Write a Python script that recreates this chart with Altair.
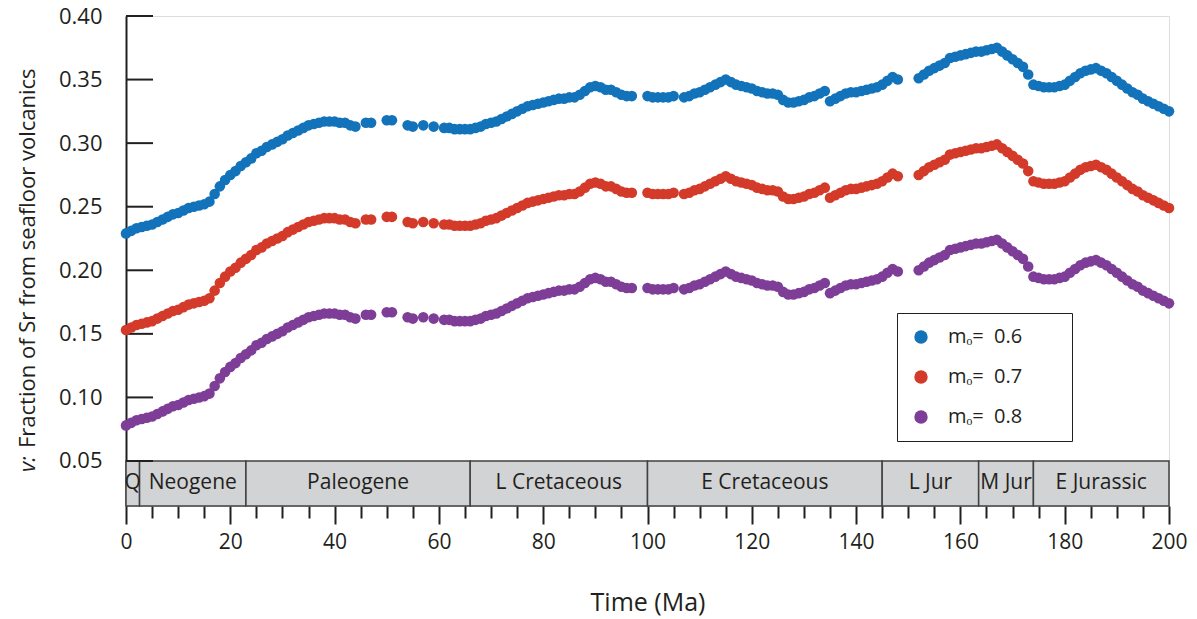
import altair as alt
import pandas as pd

FONT = "Open Sans"
INK = "#231f20"

# ---- data ----
ages = (list(range(0, 45)) + [46, 47, 50, 51, 54, 55, 57, 59] + list(range(61, 98))
        + list(range(100, 106)) + list(range(107, 149)) + list(range(152, 201)))

v_06 = [0.229,0.231,0.233,0.234,0.235,0.236,0.238,0.240,0.242,0.244,
        0.245,0.247,0.249,0.250,0.251,0.252,0.254,0.260,0.266,0.271,
        0.275,0.278,0.282,0.285,0.288,0.292,0.294,0.297,0.299,0.301,
        0.303,0.306,0.308,0.310,0.312,0.314,0.315,0.316,0.317,0.317,
        0.317,0.316,0.316,0.314,0.313,
        0.316,0.316, 0.318,0.318, 0.314,0.313, 0.314, 0.313,
        0.312,0.312,0.311,0.311,0.311,0.311,0.312,0.313,0.315,
        0.316,0.317,0.319,0.321,0.323,0.325,0.327,0.329,0.330,0.331,
        0.332,0.333,0.334,0.335,0.335,0.336,0.336,0.338,0.341,0.344,
        0.345,0.344,0.342,0.342,0.340,0.338,0.337,0.337,
        0.337,0.336,0.336,0.336,0.336,0.337,
        0.336,0.337,0.339,
        0.340,0.342,0.344,0.346,0.348,0.350,0.348,0.346,0.345,0.344,
        0.343,0.341,0.340,0.339,0.339,0.338,0.334,0.332,0.332,0.333,
        0.334,0.336,0.337,0.339,0.341,0.333,0.335,0.337,0.339,0.340,
        0.340,0.341,0.342,0.343,0.344,0.346,0.349,0.352,0.350,
        0.351,0.354,0.357,0.359,0.361,0.363,0.367,0.368,
        0.369,0.370,0.371,0.372,0.372,0.373,0.374,0.375,0.372,0.369,
        0.366,0.363,0.360,0.354,0.346,0.345,0.344,0.344,0.344,0.345,
        0.346,0.349,0.352,0.355,0.357,0.358,0.359,0.357,0.355,0.352,
        0.349,0.346,0.343,0.340,0.338,0.335,0.333,0.331,0.329,0.327,0.325]

v_07 = [0.153,0.155,0.157,0.158,0.159,0.160,0.162,0.164,0.166,0.168,
        0.169,0.171,0.173,0.174,0.175,0.176,0.178,0.184,0.190,0.195,
        0.199,0.202,0.206,0.209,0.212,0.216,0.218,0.221,0.223,0.225,
        0.227,0.230,0.232,0.234,0.236,0.238,0.239,0.240,0.241,0.241,
        0.241,0.240,0.240,0.238,0.237,
        0.240,0.240, 0.242,0.242, 0.238,0.237, 0.238, 0.237,
        0.236,0.236,0.235,0.235,0.235,0.235,0.236,0.237,0.239,
        0.240,0.241,0.243,0.245,0.247,0.249,0.251,0.253,0.254,0.255,
        0.256,0.257,0.258,0.259,0.259,0.260,0.260,0.262,0.265,0.268,
        0.269,0.268,0.266,0.266,0.264,0.262,0.261,0.261,
        0.261,0.260,0.260,0.260,0.260,0.261,
        0.260,0.261,0.263,
        0.264,0.266,0.268,0.270,0.272,0.274,0.272,0.270,0.269,0.268,
        0.267,0.265,0.264,0.263,0.263,0.262,0.258,0.256,0.256,0.257,
        0.258,0.260,0.261,0.263,0.265,0.257,0.259,0.261,0.263,0.264,
        0.264,0.265,0.266,0.267,0.268,0.270,0.273,0.276,0.274,
        0.275,0.278,0.281,0.283,0.285,0.287,0.291,0.292,
        0.293,0.294,0.295,0.296,0.296,0.297,0.298,0.299,0.296,0.293,
        0.290,0.287,0.284,0.278,0.270,0.269,0.268,0.268,0.268,0.269,
        0.270,0.273,0.276,0.279,0.281,0.282,0.283,0.281,0.279,0.276,
        0.273,0.270,0.267,0.264,0.262,0.259,0.257,0.255,0.253,0.251,0.249]

v_08 = [0.078,0.080,0.082,0.083,0.084,0.085,0.087,0.089,0.091,0.093,
        0.094,0.096,0.098,0.099,0.100,0.101,0.103,0.109,0.115,0.120,
        0.124,0.127,0.131,0.134,0.137,0.141,0.143,0.146,0.148,0.150,
        0.152,0.155,0.157,0.159,0.161,0.163,0.164,0.165,0.166,0.166,
        0.166,0.165,0.165,0.163,0.162,
        0.165,0.165, 0.167,0.167, 0.163,0.162, 0.163, 0.162,
        0.161,0.161,0.160,0.160,0.160,0.160,0.161,0.162,0.164,
        0.165,0.166,0.168,0.170,0.172,0.174,0.176,0.178,0.179,0.180,
        0.181,0.182,0.183,0.184,0.184,0.185,0.185,0.187,0.190,0.193,
        0.194,0.193,0.191,0.191,0.189,0.187,0.186,0.186,
        0.186,0.185,0.185,0.185,0.185,0.186,
        0.185,0.186,0.188,
        0.189,0.191,0.193,0.195,0.197,0.199,0.197,0.195,0.194,0.193,
        0.192,0.190,0.189,0.188,0.188,0.187,0.183,0.181,0.181,0.182,
        0.183,0.185,0.186,0.188,0.190,0.182,0.184,0.186,0.188,0.189,
        0.189,0.190,0.191,0.192,0.193,0.195,0.198,0.201,0.199,
        0.200,0.203,0.206,0.208,0.210,0.212,0.216,0.217,
        0.218,0.219,0.220,0.221,0.221,0.222,0.223,0.224,0.221,0.218,
        0.215,0.212,0.209,0.203,0.195,0.194,0.193,0.193,0.193,0.194,
        0.195,0.198,0.201,0.204,0.206,0.207,0.208,0.206,0.204,0.201,
        0.198,0.195,0.192,0.189,0.187,0.184,0.182,0.180,0.178,0.176,0.174]

series_names = ["m\u2092=\u00a0\u00a00.6", "m\u2092=\u00a0\u00a00.7", "m\u2092=\u00a0\u00a00.8"]
series_colors = ["#1273BA", "#D43A29", "#7E3D97"]

periods = ["Q", "Neogene", "Paleogene", "L Cretaceous", "E Cretaceous", "L Jur", "M Jur", "E Jurassic"]
period_start = [0, 2.6, 23, 66, 100, 145, 163.5, 174]
period_end = [2.6, 23, 66, 100, 145, 163.5, 174, 200]

y_tick_values = [0.05, 0.10, 0.15, 0.20, 0.25, 0.30, 0.35, 0.40]
x_tick_values = list(range(0, 201, 5))

# ---- tables ----
df = pd.DataFrame({
    "age": ages * 3,
    "v": v_06 + v_07 + v_08,
    "series": [series_names[0]] * len(ages) + [series_names[1]] * len(ages) + [series_names[2]] * len(ages),
})
per = pd.DataFrame({"name": periods, "start": period_start, "end": period_end})
per["mid"] = (per["start"] + per["end"]) / 2
yt = pd.DataFrame({"v": y_tick_values})

W, H = 1043, 490

xscale = alt.Scale(domain=[0, 200], nice=False)
yscale = alt.Scale(domain=[0.0146, 0.40], nice=False, zero=False)

xaxis = alt.Axis(
    values=x_tick_values, title="Time (Ma)",
    labelExpr="datum.value % 20 === 0 ? datum.label : ''",
    tickSize={"condition": {"test": "datum.value % 20 === 0", "value": 18}, "value": 12},
    tickWidth=2, tickColor=INK, domain=False, labelFontSize=21, labelColor=INK,
    labelFont=FONT, labelPadding=7, labelFlush=False, labelOverlap=False,
    titleFont=FONT, titleFontSize=25,
    titleFontWeight="normal", titleColor=INK, titlePadding=38, grid=False,
)
yaxis = alt.Axis(
    values=y_tick_values, format=".2f", title=None, ticks=False,
    labelPadding=24, labelFontSize=22, labelColor=INK, labelFont=FONT,
    domainColor=INK, domainWidth=2, grid=False,
)

band = alt.Chart(per).mark_rect(fill="#d1d3d4", stroke="#414042", strokeWidth=1.5).encode(
    x=alt.X("start:Q", scale=xscale, axis=xaxis),
    x2="end:Q",
    y=alt.Y(datum=0.05, scale=yscale, axis=yaxis),
    y2=alt.value(H),
)
band_text = alt.Chart(per).mark_text(font=FONT, fontSize=21, color=INK, baseline="middle").encode(
    x=alt.X("mid:Q", scale=xscale, axis=xaxis),
    y=alt.value(467),
    text="name:N",
)
yticks = alt.Chart(yt).mark_rule(color=INK, strokeWidth=2).encode(
    y=alt.Y("v:Q", scale=yscale, axis=yaxis),
    x=alt.value(0), x2=alt.value(27),
)
points = alt.Chart(df).mark_circle(size=112, opacity=1).encode(
    x=alt.X("age:Q", scale=xscale, axis=xaxis),
    y=alt.Y("v:Q", scale=yscale, axis=yaxis),
    color=alt.Color("series:N", scale=alt.Scale(domain=series_names, range=series_colors),
                    legend=alt.Legend(title=None, orient="none", legendX=771, legendY=297,
                                      strokeColor=INK, padding=14, symbolSize=180,
                                      symbolType="circle", labelFontSize=20, labelFont=FONT,
                                      labelColor=INK, rowPadding=20, labelOffset=17,
                                      labelLimit=400,
                                      labelExpr="datum.label + '\u00a0" + "\u2800" * 2 + "'")),
)
title_df = pd.DataFrame({"k": [1]})
ytitle_v = alt.Chart(title_df).mark_text(font=FONT, fontSize=22, fontStyle="italic", color=INK,
                                         angle=270, align="left", baseline="middle").encode(
    x=alt.value(-98), y=alt.value(456), text=alt.value("v:"))
ytitle_rest = alt.Chart(title_df).mark_text(font=FONT, fontSize=22, color=INK,
                                            angle=270, align="left", baseline="middle").encode(
    x=alt.value(-98), y=alt.value(432), text=alt.value("Fraction of Sr from seafloor volcanics"))

chart = alt.layer(band, band_text, yticks, points, ytitle_v, ytitle_rest).properties(
    width=W, height=H,
    autosize=alt.AutoSizeParams(type="none"),
    padding={"left": 126, "top": 16, "right": 28, "bottom": 113},
).configure_view(stroke=None).configure(background="white")

chart.save("out.html", embed_options={"renderer": "svg", "actions": False})
